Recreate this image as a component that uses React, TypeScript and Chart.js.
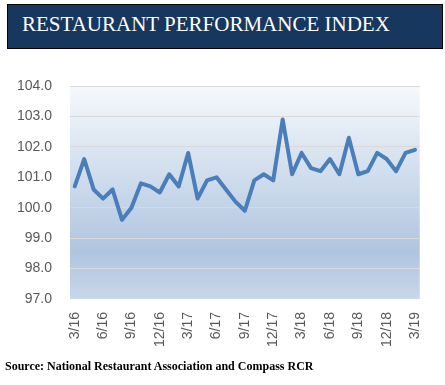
import React, { useEffect, useRef } from "react";
import { Chart, registerables } from "chart.js";

Chart.register(...registerables);

const TITLE = "RESTAURANT PERFORMANCE INDEX";
const SOURCE = "Source: National Restaurant Association and Compass RCR";

const months: string[] = [
  "3/16", "4/16", "5/16", "6/16", "7/16", "8/16", "9/16", "10/16", "11/16", "12/16",
  "1/17", "2/17", "3/17", "4/17", "5/17", "6/17", "7/17", "8/17", "9/17", "10/17", "11/17", "12/17",
  "1/18", "2/18", "3/18", "4/18", "5/18", "6/18", "7/18", "8/18", "9/18", "10/18", "11/18", "12/18",
  "1/19", "2/19", "3/19",
];

const rpiValues: number[] = [
  100.7, 101.6, 100.6, 100.3, 100.6, 99.6, 100.0, 100.8, 100.7, 100.5,
  101.1, 100.7, 101.8, 100.3, 100.9, 101.0, 100.6, 100.2, 99.9, 100.9, 101.1, 100.9,
  102.9, 101.1, 101.8, 101.3, 101.2, 101.6, 101.1, 102.3, 101.1, 101.2, 101.8, 101.6,
  101.2, 101.8, 101.9,
];

const shownTicks: string[] = ["3/16", "6/16", "9/16", "12/16", "3/17", "6/17", "9/17", "12/17", "3/18", "6/18", "9/18", "12/18", "3/19"];

const Y_MIN = 97;
const Y_MAX = 104;

const plotBackground = {
  id: "plotBackground",
  beforeDraw(chart: any) {
    const { ctx, chartArea } = chart;
    if (!chartArea) return;
    const g = ctx.createLinearGradient(0, chartArea.top, 0, chartArea.bottom);
    g.addColorStop(0, "#F6F9FC");
    g.addColorStop(0.78, "#AFC5DF");
    g.addColorStop(1, "#C8D7EA");
    ctx.save();
    ctx.fillStyle = g;
    ctx.fillRect(chartArea.left, chartArea.top, chartArea.right - chartArea.left, chartArea.bottom - chartArea.top);
    ctx.restore();
  },
};

export default function App() {
  const canvasRef = useRef<HTMLCanvasElement | null>(null);

  useEffect(() => {
    if (!canvasRef.current) return;
    const chart = new Chart(canvasRef.current, {
      type: "line",
      data: {
        labels: months,
        datasets: [
          {
            data: rpiValues,
            borderColor: "#4A7EBB",
            borderWidth: 4,
            pointRadius: 0,
            tension: 0,
            borderJoinStyle: "round",
            borderCapStyle: "round",
            fill: false,
          },
        ],
      },
      options: {
        responsive: false,
        animation: false,
        devicePixelRatio: 1,
        layout: { padding: { left: 0, right: 15, top: 86, bottom: 0 } },
        plugins: { legend: { display: false }, tooltip: { enabled: false }, title: { display: false } },
        scales: {
          x: {
            type: "category",
            offset: true,
            grid: { display: false, drawTicks: false },
            border: { display: false },
            ticks: {
              autoSkip: false,
              maxRotation: 90,
              minRotation: 90,
              padding: 13,
              color: "#595959",
              font: { family: "'Liberation Sans', Arial, sans-serif", size: 14 },
              callback: function (this: any, _v: any, i: number) {
                const l = months[i];
                return shownTicks.includes(l) ? l : "";
              },
            },
            afterFit: (scale: any) => {
              scale.height = 86;
            },
          },
          y: {
            min: Y_MIN,
            max: Y_MAX,
            grid: {
              drawTicks: false,
              color: (c: any) => (c.tick && c.tick.value === Y_MIN ? "rgba(0,0,0,0)" : "#D9D9D9"),
              lineWidth: 1,
            },
            border: { display: false },
            ticks: {
              stepSize: 1,
              padding: 18,
              color: "#595959",
              font: { family: "'Liberation Sans', Arial, sans-serif", size: 14 },
              callback: (v: any) => Number(v).toFixed(1),
            },
            afterFit: (scale: any) => {
              scale.width = 70;
            },
          },
        },
      },
      plugins: [plotBackground],
    });
    return () => chart.destroy();
  }, []);

  return (
    <div style={{ position: "absolute", left: 0, top: 0, width: 445, height: 385, background: "#FFFFFF", overflow: "hidden" }}>
      <canvas ref={canvasRef} width={445} height={385} style={{ position: "absolute", left: 0, top: 0, width: 445, height: 385 }} />
      <div
        style={{
          position: "absolute",
          left: 7,
          top: 4,
          width: 436,
          height: 45,
          boxSizing: "border-box",
          border: "1px solid #000",
          background: "#17375E",
          color: "#FFFFFF",
          fontFamily: "'Liberation Serif', 'Times New Roman', serif",
          fontSize: 21,
          lineHeight: "21px",
          paddingTop: 9,
          paddingLeft: 14,
          whiteSpace: "nowrap",
        }}
      >
        {TITLE}
      </div>
      <div
        style={{
          position: "absolute",
          left: 5,
          top: 360,
          color: "#000000",
          fontFamily: "'Liberation Serif', 'Times New Roman', serif",
          fontSize: 12,
          fontWeight: "bold",
          lineHeight: "13px",
          whiteSpace: "nowrap",
        }}
      >
        {SOURCE}
      </div>
    </div>
  );
}
